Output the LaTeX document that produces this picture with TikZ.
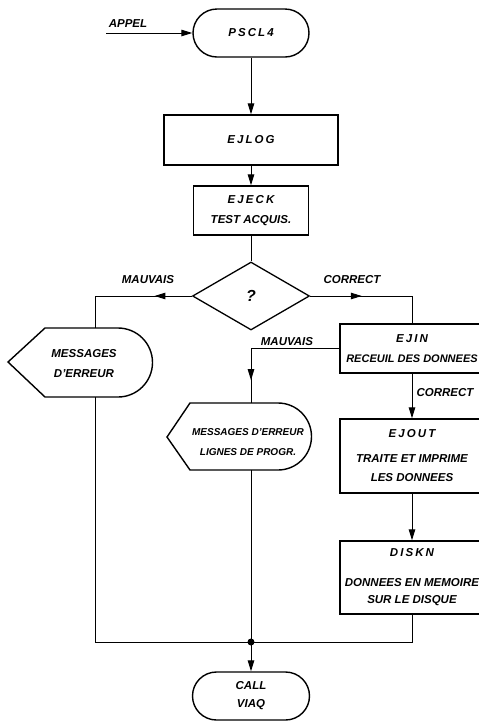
\documentclass[tikz,border=0pt]{standalone}
\usepackage{fontspec}
\setmainfont{Liberation Sans}
\usetikzlibrary{arrows.meta,shapes.geometric,decorations.markings}
\newcommand\wide[1]{{\addfontfeature{LetterSpace=18}#1}}

\begin{document}
\begin{tikzpicture}[x=1pt, y=-1pt,
    every node/.style={font=\bfseries\itshape\fontsize{11.5}{20}\selectfont, inner sep=0, align=center},
    box/.style={draw, line width=1.4pt, minimum width=#1, minimum height=49pt},
    term/.style={draw, line width=1.4pt, rounded corners=24pt, minimum width=116pt, minimum height=48pt},
    cond/.style={draw, line width=1.3pt, diamond, minimum width=117pt, minimum height=68pt},
    line/.style={line width=1pt},
    arr/.style={line, -{Triangle[length=11pt, width=6.5pt]}},
    midarr/.style={line, postaction={decorate}, decoration={markings,
        mark=at position #1 with {\arrow{Triangle[length=11pt, width=6.5pt]}}}},
  ]
  \useasboundingbox (0,0) rectangle (479,721);
  \clip (0,0) rectangle (479,721);

  % Main column
  \node[term] (pscl) at (251,33) {\wide{PSCL4}};
  \node[box=174pt, minimum height=50pt] (ejlog) at (251,140) {\wide{EJLOG}};
  \node[box=115pt] (ejeck) at (251,210.5) {\wide{EJECK}\\TEST ACQUIS.};
  \node[cond] (q) at (251,296) {\fontsize{16}{16}\selectfont ?};

  % Right column (cut by the page edge)
  \node[box=144pt] (ejin) at (412,348.5)
    {\wide{EJIN}\\{\fontsize{11}{20}\selectfont RECEUIL DES DONNEES}};
  \node[box=144pt, minimum height=74pt] (ejout) at (412,456)
    {\wide{EJOUT}\\[5pt]TRAITE ET IMPRIME\\[-1pt]LES DONNEES};
  \node[box=144pt, minimum height=73pt] (diskn) at (412,577.5)
    {\wide{DISKN}\\[10pt]DONNEES EN MEMOIRE\\[-3pt]SUR LE DISQUE};

  \node[term, minimum width=117pt] (call) at (251,696) {CALL\\[-2pt]VIAQ};

  % Error message outputs
  \draw[line width=1.4pt] (8,362) -- (45,328) -- (118,328)
    arc[start angle=-90, end angle=90, radius=34.5] -- (45,397) -- cycle;
  \node (msgA) at (84,364) {MESSAGES\\D'ERREUR};
  \draw[line width=1.4pt] (167,437) -- (190,403) -- (278,403)
    arc[start angle=-90, end angle=90, radius=33.5] -- (190,470) -- cycle;
  \node[font=\bfseries\itshape\fontsize{10}{20}\selectfont] (msgB) at (248,442)
    {MESSAGES D'ERREUR\\LIGNES DE PROGR.};

  \coordinate (appel) at (106,33);
  \coordinate (msgAin) at (95,328);
  \coordinate (msgAout) at (95,397);
  \coordinate (msgBin) at (251,403);
  \coordinate (msgBout) at (251,470);
  \coordinate (junc) at (251,642);

  % Labels
  \node (appeltxt) at (128,24) {APPEL};
  \node (badA) at (148,280) {MAUVAIS};
  \node (okA) at (352,280) {CORRECT};
  \node (badB) at (287,342) {MAUVAIS};
  \node (okB) at (445,393) {CORRECT};

  % Connectors
  \draw[arr] (appel) -- (pscl.west);
  \draw[arr] (pscl) -- (ejlog);
  \draw[arr] (ejlog) -- (ejeck);
  \draw[line] (ejeck) -- (q);
  \draw[midarr=0.29] (q.west) -| (msgAin);
  \draw[midarr=0.40] (q.east) -| (ejin.north);
  \draw[midarr=0.84] (ejin.west) -| (msgBin);
  \draw[arr] (ejin) -- (ejout);
  \draw[arr] (ejout) -- (diskn);
  \draw[line] (msgAout) |- (junc);
  \draw[line] (msgBout) -- (junc);
  \draw[line] (diskn.south) |- (junc);
  \fill (junc) circle (3.5);
  \draw[arr] (junc) -- (call);
\end{tikzpicture}
\end{document}
